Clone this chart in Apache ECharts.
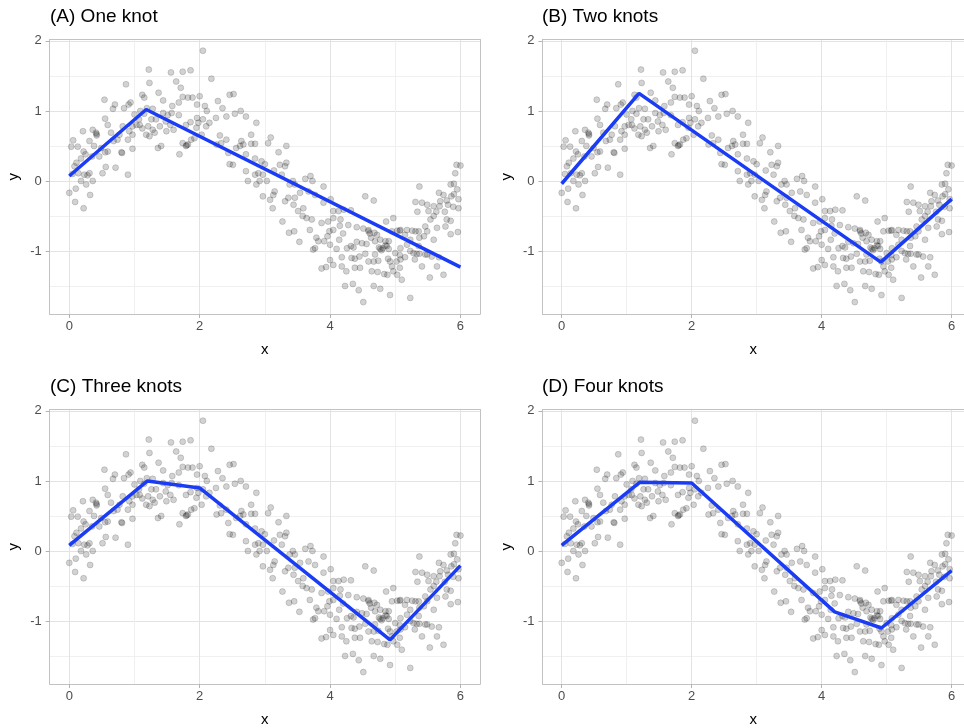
<!DOCTYPE html>
<html>
<head>
<meta charset="utf-8">
<script src="https://cdn.jsdelivr.net/npm/echarts@6/dist/echarts.min.js"></script>
<style>
html,body{margin:0;padding:0;background:#fff;}
#chart{width:964px;height:728px;}
</style>
</head>
<body>
<div id="chart"></div>
<script>
// ---- data ----
var panelTitles = ['(A) One knot', '(B) Two knots', '(C) Three knots', '(D) Four knots'];
var xTicks = [0, 2, 4, 6];
var xMinorTicks = [1, 3, 5];
var yTicks = [-1, 0, 1, 2];
var yMinorTicks = [-1.5, -0.5, 0.5, 1.5];

var points = [
[2.05,1.86],[1.22,1.59],[1.56,1.55],[1.74,1.56],[1.86,1.58],[2.18,1.46],[0.87,1.38],[1.23,1.40],[1.64,1.42],[1.71,1.33],
[1.12,1.23],[1.37,1.26],[0.54,1.16],[0.70,1.09],[0.67,1.03],[0.94,1.12],[0.84,1.04],[0.91,1.09],[1.15,1.19],[1.28,1.03],
[1.44,1.15],[1.58,1.07],[1.68,1.12],[1.74,1.20],[1.82,1.19],[1.89,1.19],[2.00,1.21],[1.96,1.09],[2.08,1.07],[2.11,1.00],
[2.28,1.14],[2.35,1.04],[2.46,1.23],[2.52,1.24],[2.41,0.92],[2.54,0.96],[2.63,1.00],[2.71,0.92],[2.25,0.90],[2.15,0.83],
[2.10,0.78],[2.05,0.88],[1.96,0.90],[1.86,0.84],[1.79,0.80],[1.95,0.76],[2.03,0.66],[1.92,0.61],[1.82,0.52],[1.74,0.54],
[1.79,0.50],[1.69,0.38],[1.87,0.59],[1.68,0.94],[1.57,0.97],[1.51,0.94],[1.44,0.97],[1.48,0.85],[1.55,0.80],[1.60,0.73],
[1.49,0.71],[1.39,0.78],[1.33,0.88],[1.26,0.88],[1.21,0.78],[1.28,0.73],[1.23,0.64],[1.31,0.69],[1.18,0.66],[1.12,0.75],
[1.08,0.80],[1.03,0.80],[0.97,0.78],[1.07,0.88],[1.15,0.96],[1.09,1.00],[1.00,0.95],[1.19,1.04],[0.97,0.66],[0.90,0.59],
[0.92,0.71],[0.82,0.78],[0.77,0.66],[0.74,0.59],[0.68,0.57],[0.64,0.69],[0.59,0.80],[0.55,0.89],[0.36,0.73],[0.42,0.65],
[0.41,0.69],[0.21,0.71],[0.06,0.58],[0.13,0.49],[0.03,0.49],[0.22,0.42],[0.31,0.57],[0.38,0.50],[0.49,0.47],[0.55,0.41],
[0.59,0.42],[0.46,0.35],[0.35,0.35],[0.25,0.38],[0.18,0.32],[0.11,0.26],[0.08,0.21],[0.05,0.10],[0.14,0.11],[0.23,0.09],
[0.31,0.11],[0.36,0.00],[0.26,-0.05],[0.18,0.00],[0.10,-0.11],[0.00,-0.17],[0.09,-0.30],[0.22,-0.39],[0.32,-0.20],[0.28,0.08],
[0.51,0.11],[0.56,0.20],[0.71,0.19],[0.81,0.40],[0.97,0.46],[0.90,0.09],[1.36,0.47],[1.41,0.50],[2.31,0.65],[2.41,0.59],
[2.26,0.52],[2.33,0.54],[2.44,0.40],[2.56,0.47],[2.62,0.50],[2.67,0.52],[2.79,0.53],[2.85,0.53],[2.79,0.66],[2.87,0.83],
[2.71,0.38],[2.51,0.23],[2.46,0.24],[2.71,0.14],[2.74,0.00],[2.87,-0.05],[2.85,0.09],[2.64,0.57],
[3.05,0.54],[3.09,0.62],[3.33,0.50],[3.21,0.41],[2.85,0.32],[2.95,0.28],[3.00,0.24],[3.23,0.23],[3.33,0.26],[3.31,0.21],
[2.90,0.11],[2.97,0.09],[2.92,0.00],[3.03,0.00],[3.14,0.15],[3.26,0.09],[3.43,0.00],[3.38,-0.05],[3.46,-0.05],[3.62,0.03],
[3.70,0.07],[3.73,0.00],[3.90,-0.08],[3.67,-0.15],[3.54,-0.17],[3.46,-0.24],[3.36,-0.24],[3.31,-0.29],[3.15,-0.15],[3.13,-0.20],
[3.08,-0.27],[2.97,-0.22],[3.12,-0.39],[3.44,-0.34],[3.51,-0.43],[3.59,-0.39],[3.64,-0.53],[3.77,-0.20],[3.90,-0.31],[4.01,-0.26],
[4.05,-0.43],[4.13,-0.43],[4.21,-0.41],[4.32,-0.42],[4.16,-0.55],[4.28,-0.63],[4.41,-0.66],[4.05,-0.53],[3.97,-0.58],[3.87,-0.60],
[3.72,-0.55],[3.69,-0.70],[3.58,-0.50],[3.27,-0.58],[3.37,-0.74],[3.45,-0.72],[3.53,-0.87],[3.79,-0.81],[3.82,-0.86],[3.77,-0.96],
[3.74,-0.98],[3.91,-0.86],[3.96,-0.79],[3.99,-0.72],[4.05,-0.70],[4.14,-0.84],[4.10,-0.97],[4.26,-0.96],[4.32,-0.93],[4.36,-0.95],
[4.18,-1.09],[4.00,-1.13],[3.87,-1.25],[3.94,-1.23],[4.05,-1.20],[4.18,-1.22],[4.25,-1.29],[4.38,-1.24],[4.46,-1.24],[4.38,-1.11],
[4.45,-1.08],[4.54,-1.04],[4.59,-0.72],[4.63,-0.81],[4.69,-0.86],[4.72,-0.77],[4.51,-0.68],[4.59,-0.70],[4.68,-0.74],[4.77,-0.84],
[4.81,-0.96],[4.85,-0.86],[4.90,-0.86],[4.87,-0.93],[4.77,-0.97],[4.69,-1.05],[4.59,-1.15],[4.67,-1.15],[4.74,-1.14],[4.64,-1.29],
[4.73,-1.30],[4.83,-1.33],[4.88,-1.34],[4.97,-1.29],[5.03,-1.34],[5.07,-1.24],[4.95,-1.22],[5.08,-1.12],[5.15,-1.09],[5.23,-1.00],
[5.28,-1.03],[5.33,-1.04],[5.37,-1.04],[5.46,-1.05],[5.49,-1.05],[5.56,-1.08],[5.67,-1.09],[5.41,-1.22],[5.53,-1.38],[5.64,-1.22],
[5.74,-1.34],[5.08,-0.96],[5.18,-0.91],[5.23,-0.84],[5.15,-0.77],[5.08,-0.70],[4.95,-0.72],[5.03,-0.71],[5.18,-0.70],[5.26,-0.71],
[5.31,-0.72],[5.37,-0.81],[5.44,-0.79],[5.46,-0.65],[5.54,-0.55],[5.59,-0.50],[5.51,-0.43],[5.41,-0.31],[5.31,-0.30],[5.37,-0.08],
[5.49,-0.34],[5.59,-0.36],[5.69,-0.29],[5.67,-0.17],[5.74,-0.20],[5.79,-0.28],[5.86,-0.22],[5.90,-0.19],[5.95,-0.12],[5.85,-0.05],
[5.90,-0.04],[5.92,0.11],[5.94,0.23],[6.00,0.22],[5.97,-0.39],[5.79,-0.55],[5.77,-0.65],[5.85,-0.57],[5.96,-0.73],[5.85,-0.76],
[5.64,-0.67],[5.59,-0.84],[5.36,-0.93],[5.49,-0.72],[4.86,-0.58],[4.97,-0.53],[4.54,-0.22],[4.67,-0.28],[4.23,-1.50],[4.35,-1.47],
[4.44,-1.56],[4.51,-1.73],[4.67,-1.50],[4.77,-1.54],[4.92,-1.63],[5.23,-1.67],[5.36,-0.72],
[5.68,-0.36],[5.81,-0.34],[5.89,-0.37],[5.34,-0.44],[5.63,-0.44],[5.76,-0.44],[5.07,-0.71],[4.15,-0.64],[4.20,-0.75],[4.61,-0.75],
[4.41,-0.87],[4.49,-0.89],[4.56,-0.90],[4.79,-0.99],[4.75,-0.95],[5.07,-1.06],[5.00,-1.03],[5.30,-1.12],[4.89,-1.11],[4.92,-1.15],
[5.02,-1.15],[4.33,-1.10],[4.00,-0.91],[5.10,-1.41],[5.97,-0.26],
[0.42,0.67],[1.80,0.51],[0.80,0.41],[4.85,-0.92],[4.90,-0.97],[1.98,0.83]
];

var fitOneKnot   = [[0, 0.07], [1.18, 1.02], [6, -1.23]];
var fitTwoKnots  = [[0, -0.04], [1.19, 1.25], [4.91, -1.16], [6, -0.26]];
var fitThreeKnots = [[0, 0.08], [1.2, 1.0], [2.0, 0.9], [4.92, -1.27], [6, -0.21]];
var fitFourKnots = [[0, 0.08], [1.2, 0.98], [2.0, 0.97], [4.2, -0.87], [4.92, -1.1], [6, -0.28]];
var fits = [fitOneKnot, fitTwoKnots, fitThreeKnots, fitFourKnots];

// ---- layout / styling ----
var FONT = '"Liberation Sans", Arial, Helvetica, sans-serif';
var BORDER = '#c2c2c2';
// left column panels show the full range; right column panels are cut by the image edge
var panels = [
  {left: 49.7, right: 484, top: 39.5, xMin: -0.3, xMax: 6.3, rightBorder: true},
  {left: 542.5, right: 0, top: 39.5, xMin: -0.295, xMax: 6.19, rightBorder: false},
  {left: 49.7, right: 484, top: 409.5, xMin: -0.3, xMax: 6.3, rightBorder: true},
  {left: 542.5, right: 0, top: 409.5, xMin: -0.295, xMax: 6.19, rightBorder: false}
];
var titleTop = [7, 7, 377, 377];
var titleLeft = [50, 542, 50, 542];
var Y_MIN = -1.9, Y_MAX = 2.02;

var grids = [], xAxes = [], yAxes = [], series = [], titles = [];
for (var i = 0; i < 4; i++) {
  var p = panels[i];
  grids.push({left: p.left, top: p.top, right: p.right, height: 274.5, show: false, containLabel: false});
  titles.push({text: panelTitles[i], left: titleLeft[i], top: titleTop[i], padding: 0,
    textStyle: {fontFamily: FONT, fontSize: 19, fontWeight: 'normal', color: '#000'}});
  // major x (bottom, with border line)
  xAxes.push({type: 'value', gridIndex: i, min: p.xMin, max: p.xMax, position: 'bottom',
    name: 'x', nameLocation: 'middle', nameGap: 28,
    nameTextStyle: {fontFamily: FONT, fontSize: 15, color: '#000'},
    axisLine: {show: true, onZero: false, lineStyle: {color: BORDER, width: 1}},
    axisTick: {show: true, length: 4, lineStyle: {color: '#b3b3b3'}, customValues: xTicks},
    axisLabel: {show: true, customValues: xTicks, margin: 6, fontFamily: FONT, fontSize: 13, color: '#4d4d4d'},
    splitLine: {show: true, lineStyle: {color: '#e3e3e3', width: 1}}
  });
  // minor x (top, with border line)
  xAxes.push({type: 'value', gridIndex: i, min: p.xMin, max: p.xMax, position: 'top',
    axisLine: {show: true, onZero: false, lineStyle: {color: BORDER, width: 1}}, axisLabel: {show: false},
    axisTick: {show: false, customValues: xMinorTicks},
    splitLine: {show: true, lineStyle: {color: '#f0f0f0', width: 1}}
  });
  // major y (left, with border line)
  yAxes.push({type: 'value', gridIndex: i, min: Y_MIN, max: Y_MAX, position: 'left',
    name: 'y', nameLocation: 'middle', nameGap: 28, nameRotate: 90,
    nameTextStyle: {fontFamily: FONT, fontSize: 15, color: '#000'},
    axisLine: {show: true, onZero: false, lineStyle: {color: BORDER, width: 1}},
    axisTick: {show: true, length: 4, lineStyle: {color: '#b3b3b3'}, customValues: yTicks},
    axisLabel: {show: true, customValues: yTicks, margin: 8, fontFamily: FONT, fontSize: 13, color: '#4d4d4d'},
    splitLine: {show: true, lineStyle: {color: '#e3e3e3', width: 1}}
  });
  // minor y (right, border line only where visible)
  yAxes.push({type: 'value', gridIndex: i, min: Y_MIN, max: Y_MAX, position: 'right',
    axisLine: {show: p.rightBorder, onZero: false, lineStyle: {color: BORDER, width: 1}}, axisLabel: {show: false},
    axisTick: {show: false, customValues: yMinorTicks},
    splitLine: {show: true, lineStyle: {color: '#f0f0f0', width: 1}}
  });
  series.push({type: 'scatter', xAxisIndex: 2 * i, yAxisIndex: 2 * i, data: points,
    symbol: 'circle', symbolSize: 6, silent: true,
    itemStyle: {color: 'rgba(0,0,0,0.22)', borderColor: 'rgba(0,0,0,0.24)', borderWidth: 0.8}
  });
  series.push({type: 'line', xAxisIndex: 2 * i, yAxisIndex: 2 * i, data: fits[i],
    showSymbol: false, symbol: 'none', silent: true,
    lineStyle: {color: '#1a3cf5', width: 3.5}
  });
}

var chart = echarts.init(document.getElementById('chart'), null, {renderer: 'canvas'});
chart.setOption({
  animation: false,
  backgroundColor: '#fff',
  title: titles,
  grid: grids,
  xAxis: xAxes,
  yAxis: yAxes,
  series: series
});
</script>
</body>
</html>
